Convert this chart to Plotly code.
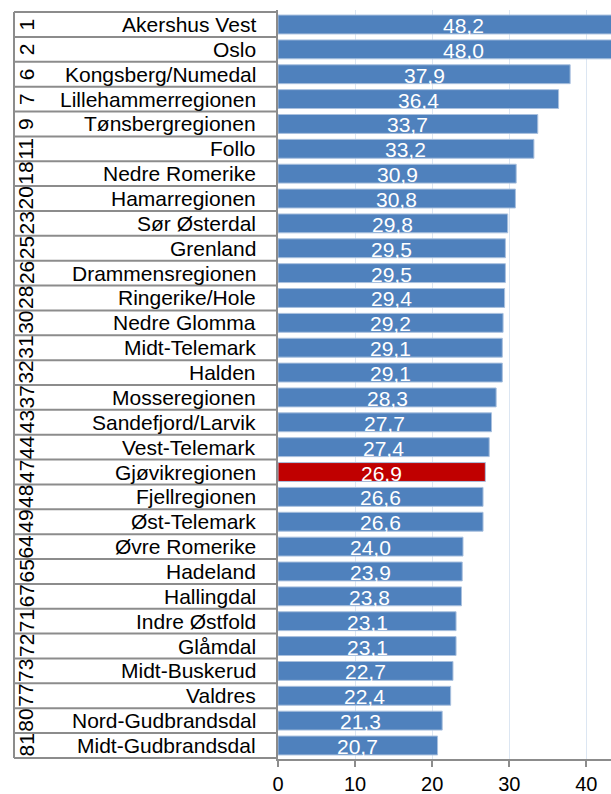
import plotly.graph_objects as go

# Regions ranked by share (%), with national rank
ranks = [1, 2, 6, 7, 9, 11, 18, 20, 23, 25, 26, 28, 30, 31, 32, 37, 43, 44, 47, 48,
         49, 64, 65, 67, 71, 72, 73, 77, 80, 81]
regions = ["Akershus Vest", "Oslo", "Kongsberg/Numedal", "Lillehammerregionen",
           "Tønsbergregionen", "Follo", "Nedre Romerike", "Hamarregionen",
           "Sør Østerdal", "Grenland", "Drammensregionen", "Ringerike/Hole",
           "Nedre Glomma", "Midt-Telemark", "Halden", "Mosseregionen",
           "Sandefjord/Larvik", "Vest-Telemark", "Gjøvikregionen", "Fjellregionen",
           "Øst-Telemark", "Øvre Romerike", "Hadeland", "Hallingdal", "Indre Østfold",
           "Glåmdal", "Midt-Buskerud", "Valdres", "Nord-Gudbrandsdal",
           "Midt-Gudbrandsdal"]
values = [48.2, 48.0, 37.9, 36.4, 33.7, 33.2, 30.9, 30.8, 29.8, 29.5, 29.5, 29.4,
          29.2, 29.1, 29.1, 28.3, 27.7, 27.4, 26.9, 26.6, 26.6, 24.0, 23.9, 23.8,
          23.1, 23.1, 22.7, 22.4, 21.3, 20.7]
highlight = "Gjøvikregionen"
x_ticks = [0, 10, 20, 30, 40]

BLUE = "#4f81bd"
RED = "#c00000"
LINE = "#8c8c8c"
FONT = "Liberation Sans, Arial, sans-serif"

W, H = 611, 794
ML, MR, MT, MB = 278, 0, 10, 35
plot_w = W - ML - MR

def px_to_paper(px):
    return (px - ML) / plot_w

colors = [RED if r == highlight else BLUE for r in regions]

fig = go.Figure(go.Bar(
    x=values, y=regions, orientation="h",
    marker=dict(color=colors, line=dict(color="#a9c0de", width=1)),
    width=0.76, hoverinfo="x+y",
))

annotations = []
# value labels, centred on each full bar
for r, v in zip(regions, values):
    annotations.append(dict(
        x=v / 2, y=r, xref="x", yref="y", text=f"{v:.1f}".replace(".", ","),
        showarrow=False, font=dict(family=FONT, size=21, color="white"),
        xanchor="center", yanchor="middle", yshift=-1,
    ))
# region names, right-aligned in the table column
for r in regions:
    annotations.append(dict(
        x=px_to_paper(258), y=r, xref="paper", yref="y", text=r,
        showarrow=False, font=dict(family=FONT, size=21, color="black"),
        xanchor="right", yanchor="middle",
    ))
# rank numbers, rotated
for rk, r in zip(ranks, regions):
    annotations.append(dict(
        x=px_to_paper(26), y=r, xref="paper", yref="y", text=str(rk),
        showarrow=False, textangle=-90,
        font=dict(family=FONT, size=21, color="black"),
        xanchor="center", yanchor="middle",
    ))

# table rules between rows and the left border
shapes = []
n = len(regions)
for i in range(n + 1):
    shapes.append(dict(
        type="line", xref="paper", yref="y",
        x0=px_to_paper(14), x1=0, y0=i - 0.5, y1=i - 0.5,
        line=dict(color=LINE, width=2),
    ))
shapes.append(dict(
    type="line", xref="paper", yref="y",
    x0=px_to_paper(14), x1=px_to_paper(14), y0=-0.5, y1=n - 0.5,
    line=dict(color=LINE, width=2),
))

fig.update_layout(
    width=W, height=H,
    margin=dict(l=ML, r=MR, t=MT, b=MB),
    plot_bgcolor="white", paper_bgcolor="white",
    showlegend=False,
    bargap=0.24,
    annotations=annotations,
    shapes=shapes,
    font=dict(family=FONT, size=20, color="black"),
    xaxis=dict(
        range=[0, 43.2], tickvals=x_ticks, ticktext=[str(t) for t in x_ticks],
        showgrid=True, gridcolor="#dce6f2", gridwidth=1,
        zeroline=False, showline=True, linecolor=LINE, linewidth=2,
        ticks="outside", ticklen=6, tickwidth=2, tickcolor=LINE,
        tickfont=dict(family=FONT, size=20, color="black"),
        fixedrange=True,
    ),
    yaxis=dict(
        type="category", autorange="reversed",
        showticklabels=False, showgrid=False, zeroline=False,
        showline=True, linecolor=LINE, linewidth=2, ticks="",
        fixedrange=True,
    ),
)

fig.write_html("out.html")
